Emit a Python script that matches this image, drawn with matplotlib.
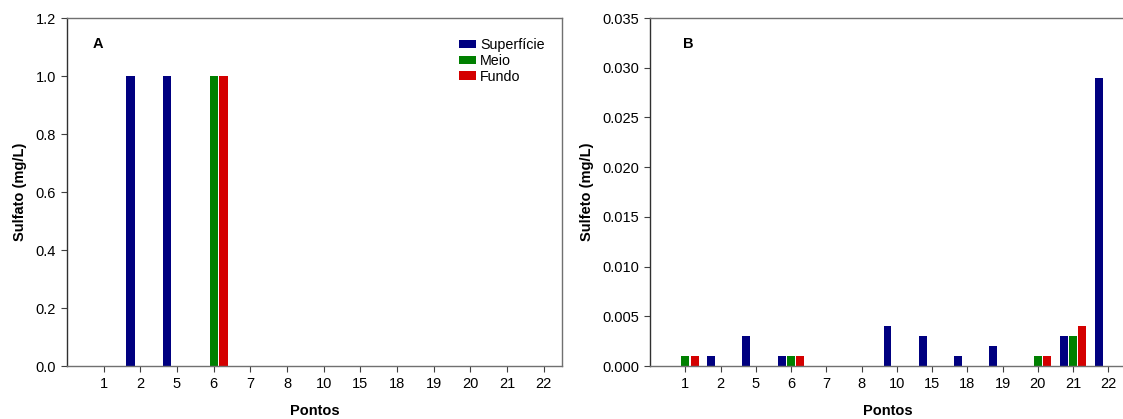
import numpy as np
import matplotlib
matplotlib.use('Agg')
import matplotlib.pyplot as plt

plt.rcParams['font.family'] = ['Liberation Sans', 'DejaVu Sans']

pontos = ['1', '2', '5', '6', '7', '8', '10', '15', '18', '19', '20', '21', '22']
series = ['Superfície', 'Meio', 'Fundo']
colors = ['#000080', '#008000', '#d40000']

# Sulfato (mg/L)
sulfato_sup = [0, 1.0, 1.0, 0, 0, 0, 0, 0, 0, 0, 0, 0, 0]
sulfato_meio = [0, 0, 0, 1.0, 0, 0, 0, 0, 0, 0, 0, 0, 0]
sulfato_fundo = [0, 0, 0, 1.0, 0, 0, 0, 0, 0, 0, 0, 0, 0]

# Sulfeto (mg/L)
sulfeto_sup = [0, 0.001, 0.003, 0.001, 0, 0, 0.004, 0.003, 0.001, 0.002, 0, 0.003, 0.029]
sulfeto_meio = [0.001, 0, 0, 0.001, 0, 0, 0, 0, 0, 0, 0.001, 0.003, 0]
sulfeto_fundo = [0.001, 0, 0, 0.001, 0, 0, 0, 0, 0, 0, 0.001, 0.004, 0]

fig = plt.figure(figsize=(11.23, 4.19), dpi=100)
ax1 = fig.add_axes([67/1123, 53/419, 495/1123, 348/419])
ax2 = fig.add_axes([650/1123, 53/419, 476/1123, 348/419])

x = np.arange(len(pontos))
offsets = [-0.265, 0, 0.265]
width = 0.225
spine_col = '#707070'


def draw(ax, data, ylim, yticks, fmt, ylabel, letter, letter_x):
    for vals, off, c, name in zip(data, offsets, colors, series):
        ax.bar(x + off, vals, width, color=c, label=name, linewidth=0)
    ax.set_xlim(-1, 12.5)
    ax.set_ylim(*ylim)
    ax.set_xticks(x)
    ax.set_xticklabels(pontos)
    ax.set_yticks(yticks)
    ax.set_yticklabels([fmt.format(v) for v in yticks])
    ax.tick_params(axis='both', direction='out', length=4, width=0.8,
                   labelsize=10.5, color='#404040', pad=4)
    for s in ax.spines.values():
        s.set_color(spine_col)
        s.set_linewidth(1.0)
    ax.spines['left'].set_color('#303030')
    ax.set_xlabel('Pontos', fontsize=10.5, fontweight='bold', labelpad=9)
    ax.set_ylabel(ylabel, fontsize=10.5, fontweight='bold', labelpad=6)
    ax.text(letter_x, 0.925, letter, transform=ax.transAxes, fontsize=10.5,
            fontweight='bold', va='center', ha='left')


draw(ax1, [sulfato_sup, sulfato_meio, sulfato_fundo], (0, 1.2),
     np.arange(0, 1.21, 0.2), '{:.1f}', 'Sulfato (mg/L)', 'A', 0.052)
draw(ax2, [sulfeto_sup, sulfeto_meio, sulfeto_fundo], (0, 0.035),
     np.arange(0, 0.0351, 0.005), '{:.3f}', 'Sulfeto (mg/L)', 'B', 0.069)

ax1.legend(loc='upper left', bbox_to_anchor=(0.791, 0.942), frameon=False,
           fontsize=10.3, handlelength=1.2, handleheight=0.55, handletextpad=0.3,
           labelspacing=0.12, borderpad=0, borderaxespad=0)

fig.savefig('out.png', dpi=100)
